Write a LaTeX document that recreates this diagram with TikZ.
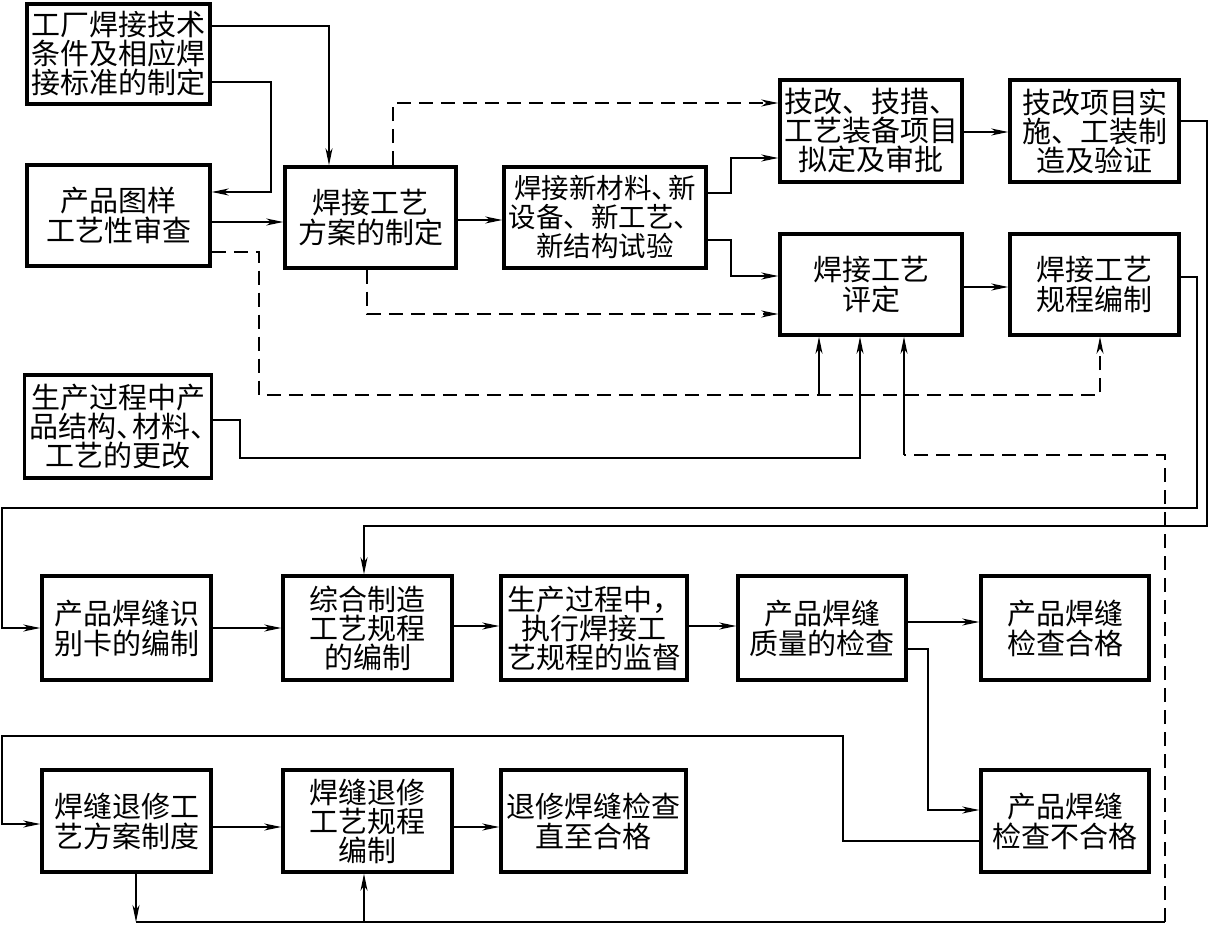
\documentclass[tikz,border=0pt]{standalone}
\usepackage{fontspec}
\newfontfamily\cjk{Noto Sans CJK SC}
\usetikzlibrary{arrows.meta}
\begin{document}
\begin{tikzpicture}[x=1pt,y=-1pt,
  box/.style={draw, line width=3.5pt, inner sep=0pt, align=center, font=\cjk\fontsize{29}{30}\selectfont},
  ln/.style={line width=1.3pt},
  arr/.style={ln, -{Stealth[length=17pt,width=7pt,inset=5pt]}},
  dsh/.style={dash pattern=on 14pt off 8pt}]
\useasboundingbox (0,0) rectangle (1208,925);
% row 1 area
\node[box, minimum width=183pt, minimum height=100pt, font=\cjk\fontsize{29}{29}\selectfont] (A) at (118.5,54) {工厂焊接技术\\条件及相应焊\\接标准的制定};
\node[box, minimum width=183pt, minimum height=101pt] (B) at (118.5,215.5) {产品图样\\工艺性审查};
\node[box, minimum width=171pt, minimum height=101pt] (C) at (370.5,217.5) {焊接工艺\\方案的制定};
\node[box, minimum width=202pt, minimum height=101pt, font=\cjk\fontsize{27.5}{29}\selectfont] (D) at (605,217.5) {焊接新材料、\kern-0.4em新\\设备、新工艺、\\新结构试验};
\node[box, minimum width=182pt, minimum height=102pt, font=\cjk\fontsize{29}{29}\selectfont] (E) at (871,131) {技改、技措、\\工艺装备项目\\拟定及审批};
\node[box, minimum width=169pt, minimum height=102pt, font=\cjk\fontsize{29}{29}\selectfont] (F) at (1094.5,131) {技改项目实\\施、工装制\\造及验证};
\node[box, minimum width=182pt, minimum height=101pt] (G) at (871,284.5) {焊接工艺\\评定};
\node[box, minimum width=169pt, minimum height=101pt] (H) at (1094.5,284.5) {焊接工艺\\规程编制};
\node[box, minimum width=187pt, minimum height=103pt, font=\cjk\fontsize{29}{29}\selectfont] (I) at (118,426.5) {生产过程中产\\品结构、\kern-0.45em材料、\kern-0.45em\\工艺的更改};
% row 2
\node[box, minimum width=169pt, minimum height=104pt] (J) at (126.5,628) {产品焊缝识\\别卡的编制};
\node[box, minimum width=169pt, minimum height=104pt, font=\cjk\fontsize{29}{29}\selectfont] (K) at (367.5,628) {综合制造\\工艺规程\\的编制};
\node[box, minimum width=186pt, minimum height=104pt, font=\cjk\fontsize{29}{29}\selectfont] (L) at (594,628) {生产过程中，\\执行焊接工\\艺规程的监督};
\node[box, minimum width=168pt, minimum height=104pt] (M) at (822,628) {产品焊缝\\质量的检查};
\node[box, minimum width=168pt, minimum height=104pt] (N) at (1065,628) {产品焊缝\\检查合格};
% row 3
\node[box, minimum width=169pt, minimum height=102pt] (O) at (126.5,821) {焊缝退修工\\艺方案制度};
\node[box, minimum width=169pt, minimum height=102pt, font=\cjk\fontsize{29}{29}\selectfont] (P) at (367.5,821) {焊缝退修\\工艺规程\\编制};
\node[box, minimum width=185pt, minimum height=102pt] (Q) at (593.5,821) {退修焊缝检查\\直至合格};
\node[box, minimum width=168pt, minimum height=102pt] (R) at (1065,821) {产品焊缝\\检查不合格};
% connectors top
\draw[arr] (A.east |- 0,26) -- (329,26) -- (C.north -| 329,0);
\draw[arr] (A.east |- 0,82) -- (271,82) -- (271,192) -- (B.east |- 0,192);
\draw[arr] (B.east |- 0,222) -- (C.west |- 0,222);
\draw[arr] (C.east |- 0,220) -- (D.west |- 0,220);
\draw[arr,dsh] (C.north -| 393,0) -- (393,103) -- (E.west |- 0,103);
\draw[arr] (D.east |- 0,193) -- (731,193) -- (731,158) -- (E.west |- 0,158);
\draw[arr] (D.east |- 0,240) -- (731,240) -- (731,276) -- (G.west |- 0,276);
\draw[arr,dsh] (C.south -| 367,0) -- (367,314) -- (G.west |- 0,314);
\draw[arr] (E.east |- 0,132) -- (F.west |- 0,132);
\draw[arr] (G.east |- 0,287) -- (H.west |- 0,287);
\draw[arr,dsh] (B.east |- 0,252) -- (259,252) -- (259,395) -- (1100,395) -- (H.south -| 1100,0);
\coordinate (b1) at (819,395);
\draw[arr] (b1) -- (G.south -| b1);
\draw[arr] (I.east |- 0,420) -- (240,420) -- (240,458) -- (860,458) -- (G.south -| 860,0);
\coordinate (fb) at (904,455);
\coordinate (fc) at (1165,922);
\draw[ln,dsh] (fc) -- (1165,455) -- (fb);
\draw[arr] (fb) -- (G.south -| fb);
\draw[arr] (H.east |- 0,277) -- (1197,277) -- (1197,508) -- (2,508) -- (2,628) -- (J.west |- 0,628);
\draw[arr] (F.east |- 0,121) -- (1207,121) -- (1207,526) -- (364,526) -- (K.north -| 364,0);
% row 2 connectors
\draw[arr] (J.east |- 0,628) -- (K.west |- 0,628);
\draw[arr] (K.east |- 0,626) -- (L.west |- 0,626);
\draw[arr] (L.east |- 0,626) -- (M.west |- 0,626);
\draw[arr] (M.east |- 0,622) -- (N.west |- 0,622);
\draw[arr] (M.east |- 0,649) -- (928,649) -- (928,810) -- (R.west |- 0,810);
% row 3 connectors
\draw[arr] (R.west |- 0,841) -- (843,841) -- (843,736) -- (2,736) -- (2,824) -- (O.west |- 0,824);
\draw[arr] (O.east |- 0,827) -- (P.west |- 0,827);
\draw[arr] (P.east |- 0,827) -- (Q.west |- 0,827);
\coordinate (ob) at (136,922);
\draw[arr] (O.south -| ob) -- (ob);
\draw[ln] (ob) -- (fc);
\coordinate (pb) at (364,922);
\draw[arr] (pb) -- (P.south -| pb);
\end{tikzpicture}
\end{document}
